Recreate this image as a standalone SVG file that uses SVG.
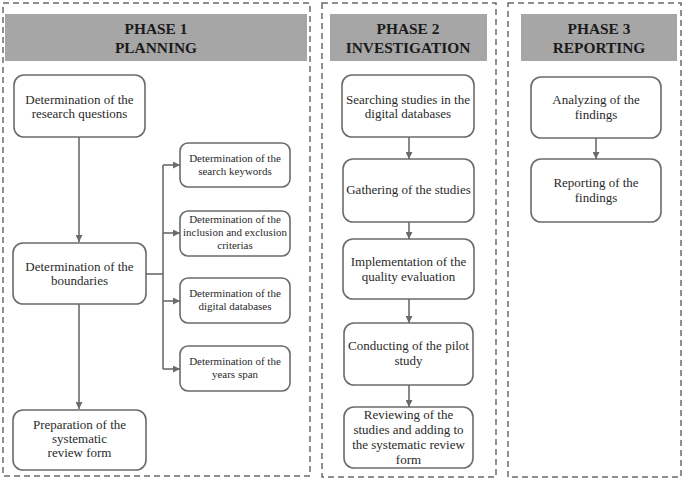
<svg xmlns="http://www.w3.org/2000/svg" width="685" height="480" viewBox="0 0 685 480">
<style>
.phase{fill:none;stroke:#6b6b6b;stroke-width:1.5;stroke-dasharray:6 4}
.hdr{fill:#a6a6a6}
.ht{font-family:'Liberation Serif','Times New Roman','DejaVu Serif',serif;font-weight:bold;font-size:15.4px;fill:#1a1a1a;text-anchor:middle}
.node{fill:#fff;stroke:#6b6b6b;stroke-width:1.6}
.t{font-family:'Liberation Serif','Times New Roman','DejaVu Serif',serif;font-size:13px;fill:#2a2a2a;text-anchor:middle}
.ts{font-family:'Liberation Serif','Times New Roman','DejaVu Serif',serif;font-size:11px;fill:#2a2a2a;text-anchor:middle}
.c{fill:none;stroke:#6b6b6b;stroke-width:1.6}
</style>
<defs>
<marker id="ah" viewBox="0 0 10 10" refX="10" refY="5" markerWidth="7" markerHeight="7" markerUnits="userSpaceOnUse" orient="auto">
<path d="M0,0 L10,5 L0,10 z" fill="#6b6b6b"/>
</marker>
</defs>
<rect width="685" height="480" fill="#fff"/>
<g id="phase1">
<rect class="phase" x="3" y="3" width="307" height="473"/>
<rect class="hdr" x="5" y="14" width="302" height="47"/>
<text class="ht" x="156" y="34">PHASE 1</text>
<text class="ht" x="156" y="53">PLANNING</text>
</g>
<g id="phase2">
<rect class="phase" x="322" y="3" width="174" height="474"/>
<rect class="hdr" x="330" y="14" width="157" height="47"/>
<text class="ht" x="408" y="34">PHASE 2</text>
<text class="ht" x="408" y="53">INVESTIGATION</text>
</g>
<g id="phase3">
<rect class="phase" x="508" y="3" width="173" height="474"/>
<rect class="hdr" x="521" y="14" width="156" height="47"/>
<text class="ht" x="599" y="34">PHASE 3</text>
<text class="ht" x="599" y="53">REPORTING</text>
</g>
<g id="connectors">
<path class="c" d="M79,137 V242" marker-end="url(#ah)"/>
<path class="c" d="M79,304 V409" marker-end="url(#ah)"/>
<path class="c" d="M146,274 H163"/>
<path class="c" d="M163,165 V369"/>
<path class="c" d="M163,165 H180" marker-end="url(#ah)"/>
<path class="c" d="M163,233 H180" marker-end="url(#ah)"/>
<path class="c" d="M163,301 H180" marker-end="url(#ah)"/>
<path class="c" d="M163,369 H180" marker-end="url(#ah)"/>
<path class="c" d="M409,137 V159" marker-end="url(#ah)"/>
<path class="c" d="M409,222 V239" marker-end="url(#ah)"/>
<path class="c" d="M409,299 V323" marker-end="url(#ah)"/>
<path class="c" d="M409,385 V407" marker-end="url(#ah)"/>
<path class="c" d="M596,138 V159" marker-end="url(#ah)"/>
</g>
<g id="research-questions">
<rect class="node" x="14" y="75" width="131" height="62" rx="10"/>
<text class="t" x="79.5" y="104">Determination of the</text>
<text class="t" x="79.5" y="118">research questions</text>
</g>
<g id="boundaries">
<rect class="node" x="13" y="243" width="133" height="61" rx="10"/>
<text class="t" x="79.5" y="271">Determination of the</text>
<text class="t" x="79.5" y="285">boundaries</text>
</g>
<g id="preparation">
<rect class="node" x="13" y="410" width="133" height="60" rx="10"/>
<text class="t" x="79.5" y="429">Preparation of the</text>
<text class="t" x="79.5" y="443">systematic</text>
<text class="t" x="79.5" y="457">review form</text>
</g>
<g id="search-keywords">
<rect class="node" x="180" y="143" width="110" height="44" rx="8"/>
<text class="ts" x="235" y="162">Determination of the</text>
<text class="ts" x="235" y="175">search keywords</text>
</g>
<g id="inclusion-exclusion">
<rect class="node" x="180" y="211" width="110" height="45" rx="8"/>
<text class="ts" x="235" y="223">Determination of the</text>
<text class="ts" x="235" y="236">inclusion and exclusion</text>
<text class="ts" x="235" y="249">criterias</text>
</g>
<g id="digital-databases">
<rect class="node" x="180" y="278" width="110" height="45" rx="8"/>
<text class="ts" x="235" y="297">Determination of the</text>
<text class="ts" x="235" y="310">digital databases</text>
</g>
<g id="years-span">
<rect class="node" x="180" y="346" width="110" height="45" rx="8"/>
<text class="ts" x="235" y="365">Determination of the</text>
<text class="ts" x="235" y="378">years span</text>
</g>
<g id="searching">
<rect class="node" x="342" y="75" width="132" height="62" rx="10"/>
<text class="t" x="408" y="104">Searching studies in the</text>
<text class="t" x="408" y="118">digital databases</text>
</g>
<g id="gathering">
<rect class="node" x="343" y="159" width="131" height="63" rx="10"/>
<text class="t" x="408.5" y="194">Gathering of the studies</text>
</g>
<g id="quality">
<rect class="node" x="343" y="239" width="131" height="60" rx="10"/>
<text class="t" x="408.5" y="266">Implementation of the</text>
<text class="t" x="408.5" y="281">quality evaluation</text>
</g>
<g id="pilot">
<rect class="node" x="344" y="323" width="129" height="62" rx="10"/>
<text class="t" x="408.5" y="350">Conducting of the pilot</text>
<text class="t" x="408.5" y="365">study</text>
</g>
<g id="reviewing">
<rect class="node" x="344" y="407" width="129" height="61" rx="10"/>
<text class="t" x="408.5" y="419">Reviewing of the</text>
<text class="t" x="408.5" y="434">studies and adding to</text>
<text class="t" x="408.5" y="449">the systematic review</text>
<text class="t" x="408.5" y="464">form</text>
</g>
<g id="analyzing">
<rect class="node" x="531" y="77" width="130" height="61" rx="10"/>
<text class="t" x="596" y="104">Analyzing of the</text>
<text class="t" x="596" y="119">findings</text>
</g>
<g id="reporting">
<rect class="node" x="531" y="159" width="130" height="63" rx="10"/>
<text class="t" x="596" y="187">Reporting of the</text>
<text class="t" x="596" y="202">findings</text>
</g>
</svg>
